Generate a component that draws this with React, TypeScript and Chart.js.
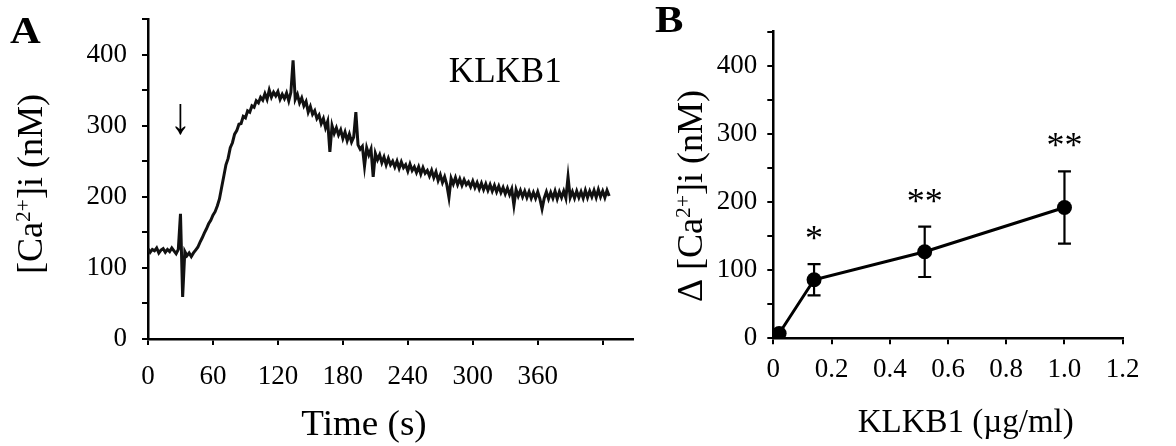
import React, { useEffect, useRef } from 'react';
import { Chart, registerables } from 'chart.js';

Chart.register(...registerables);

const SERIF = "'Liberation Serif', 'Times New Roman', serif";

// ---------- Panel A: [Ca2+]i time course ----------
const traceStartTime = 0;
const traceStep = 2; // seconds between samples
const traceValues = [
  127, 122, 126, 124, 128, 121, 125, 127, 122, 126,
  123, 128, 124, 120, 126, 176, 59, 123, 117, 121,
  116, 121, 125, 129, 136, 142, 149, 155, 162, 167,
  174, 179, 187, 197, 213, 229, 245, 254, 269, 276,
  288, 293, 302, 303, 313, 311, 321, 319, 328, 326,
  335, 332, 340, 336, 345, 337, 350, 340, 347, 342,
  348, 337, 344, 338, 346, 335, 347, 392, 337, 344,
  332, 339, 328, 334, 319, 327, 316, 321, 310, 315,
  303, 310, 297, 306, 263, 300, 289, 297, 287, 294,
  282, 291, 279, 288, 277, 284, 319, 273, 267, 271,
  243, 269, 259, 267, 228, 261, 252, 259, 248, 256,
  245, 254, 245, 250, 242, 250, 240, 249, 241, 245,
  236, 246, 237, 242, 234, 242, 232, 241, 233, 237,
  229, 237, 227, 235, 223, 231, 220, 228, 217, 199,
  226, 218, 227, 217, 225, 216, 224, 217, 221, 214,
  222, 213, 220, 211, 219, 210, 218, 209, 217, 208,
  216, 207, 215, 206, 213, 204, 212, 203, 211, 188,
  210, 201, 209, 200, 208, 199, 207, 198, 206, 198,
  207, 197, 183, 198, 207, 197, 206, 198, 208, 197,
  207, 199, 208, 198, 228, 199, 207, 198, 208, 199,
  207, 198, 209, 199, 208, 200, 209, 199, 210, 200,
  208, 199, 209, 201,
];
const timeMax = 448;
const timeStep = 60;
const timeLastLabel = 360;
const caMax = 450;
const caStep = 50;
const caLabelStep = 100;
const arrowTime = 30;
const arrowValue = 290;
const traceLabel = 'KLKB1';
const traceLabelTime = 330;
const traceLabelValue = 361;

// ---------- Panel B: dose response ----------
const doses = [0.02, 0.14, 0.52, 1.0];
const deltaCa = [7, 86, 127, 192];
const deltaSem = [0, 23, 37, 53];
const significance = ['', '*', '**', '**'];
const doseMax = 1.2;
const doseStep = 0.2;

type Part = { text: string; sup?: boolean };

function drawRich(
  ctx: CanvasRenderingContext2D,
  parts: Part[],
  size: number,
  bold: boolean,
  x: number,
  y: number,
  opts: { rotate?: boolean; align?: 'center' | 'left'; sx?: number } = {}
) {
  const { rotate = false, align = 'center', sx = 1 } = opts;
  ctx.save();
  ctx.translate(x, y);
  if (rotate) ctx.rotate(-Math.PI / 2);
  ctx.scale(sx, 1);
  ctx.fillStyle = '#000';
  ctx.textBaseline = 'alphabetic';
  ctx.textAlign = 'left';
  const fontOf = (p: Part) => `${bold ? 'bold ' : ''}${p.sup ? size * 0.6 : size}px ${SERIF}`;
  const widths = parts.map((p) => {
    ctx.font = fontOf(p);
    return ctx.measureText(p.text).width;
  });
  const total = widths.reduce((a, b) => a + b, 0);
  let cx = align === 'center' ? -total / 2 : 0;
  parts.forEach((p, i) => {
    ctx.font = fontOf(p);
    ctx.fillText(p.text, cx, p.sup ? -size * 0.33 : 0);
    cx += widths[i];
  });
  ctx.restore();
}

const axisGrid = {
  display: true,
  drawOnChartArea: false,
  drawTicks: true,
  tickLength: 6,
  tickWidth: 2,
  tickColor: '#000',
  color: '#000',
  lineWidth: 2,
};
const axisBorder = { display: true, color: '#000', width: 2.5 };
const tickFont = { family: SERIF, size: 27 };

function fixBox(prop: 'width' | 'height', size: number) {
  return (s: any) => {
    s[prop] = size;
    s.paddingTop = 0;
    s.paddingBottom = 0;
    s.paddingLeft = 0;
    s.paddingRight = 0;
  };
}

export default function App() {
  const refA = useRef<HTMLCanvasElement>(null);
  const refB = useRef<HTMLCanvasElement>(null);

  useEffect(() => {
    const traceData = traceValues.map((v, i) => ({ x: traceStartTime + i * traceStep, y: v }));

    const panelAPlugin = {
      id: 'panelA',
      afterDraw(chart: any) {
        const ctx = chart.ctx as CanvasRenderingContext2D;
        const xs = chart.scales.x;
        const ys = chart.scales.y;
        drawRich(ctx, [{ text: 'A' }], 37, true, 10, 43, { align: 'left', sx: 1.15 });
        drawRich(ctx, [{ text: '[Ca' }, { text: '2+', sup: true }, { text: ']i (nM)' }], 36, false, 41.5, 184, { rotate: true });
        drawRich(ctx, [{ text: 'Time (s)' }], 35, false, 364, 435, { sx: 1.06 });
        drawRich(ctx, [{ text: traceLabel }], 35, false, xs.getPixelForValue(traceLabelTime), ys.getPixelForValue(traceLabelValue));
        drawRich(ctx, [{ text: '\u2193' }], 52, false, xs.getPixelForValue(arrowTime), ys.getPixelForValue(arrowValue), { sx: 0.8 });
      },
    };

    const chartA = new Chart(refA.current!, {
      type: 'line',
      data: {
        datasets: [
          {
            data: traceData,
            borderColor: '#111',
            borderWidth: 3,
            pointRadius: 0,
            tension: 0,
            fill: false,
          },
        ],
      },
      options: {
        responsive: false,
        maintainAspectRatio: false,
        animation: false,
        events: [],
        layout: { padding: { left: 0, top: 19, right: 17, bottom: 0 } },
        plugins: { legend: { display: false }, tooltip: { enabled: false } },
        scales: {
          x: {
            type: 'linear',
            min: 0,
            max: timeMax,
            afterFit: fixBox('height', 107),
            ticks: {
              stepSize: timeStep,
              includeBounds: false,
              autoSkip: false,
              maxRotation: 0,
              color: '#000',
              font: tickFont,
              padding: 16,
              callback: (v: any) => (Number(v) <= timeLastLabel ? String(v) : ''),
            },
            grid: axisGrid,
            border: axisBorder,
          },
          y: {
            type: 'linear',
            min: 0,
            max: caMax,
            afterFit: fixBox('width', 148),
            ticks: {
              stepSize: caStep,
              autoSkip: false,
              color: '#000',
              font: tickFont,
              padding: 15,
              callback: (v: any) => (Number(v) % caLabelStep === 0 ? String(v) : ''),
            },
            grid: axisGrid,
            border: axisBorder,
          },
        },
      } as any,
      plugins: [panelAPlugin],
    });

    const panelBPlugin = {
      id: 'panelB',
      afterDatasetsDraw(chart: any) {
        const ctx = chart.ctx as CanvasRenderingContext2D;
        const xs = chart.scales.x;
        const ys = chart.scales.y;
        ctx.save();
        ctx.strokeStyle = '#000';
        ctx.lineWidth = 2.2;
        doses.forEach((d, i) => {
          if (!deltaSem[i]) return;
          const px = xs.getPixelForValue(d);
          const top = ys.getPixelForValue(deltaCa[i] + deltaSem[i]);
          const bot = ys.getPixelForValue(deltaCa[i] - deltaSem[i]);
          ctx.beginPath();
          ctx.moveTo(px, top);
          ctx.lineTo(px, bot);
          ctx.moveTo(px - 6.5, top);
          ctx.lineTo(px + 6.5, top);
          ctx.moveTo(px - 6.5, bot);
          ctx.lineTo(px + 6.5, bot);
          ctx.stroke();
        });
        ctx.restore();
      },
      afterDraw(chart: any) {
        const ctx = chart.ctx as CanvasRenderingContext2D;
        const xs = chart.scales.x;
        const ys = chart.scales.y;
        drawRich(ctx, [{ text: 'B' }], 37, true, 5, 32, { align: 'left', sx: 1.15 });
        drawRich(ctx, [{ text: '\u0394 [Ca' }, { text: '2+', sup: true }, { text: ']i (nM)' }], 36, false, 51.7, 196, { rotate: true });
        drawRich(ctx, [{ text: 'KLKB1 (\u00b5g/ml)' }], 33, false, 315.7, 431.7);
        doses.forEach((d, i) => {
          if (!significance[i]) return;
          const px = xs.getPixelForValue(d);
          const top = ys.getPixelForValue(deltaCa[i] + deltaSem[i]);
          drawRich(ctx, [{ text: significance[i] }], 36, false, px, top - 14);
        });
      },
    };

    const chartB = new Chart(refB.current!, {
      type: 'line',
      data: {
        datasets: [
          {
            data: doses.map((d, i) => ({ x: d, y: deltaCa[i] })),
            borderColor: '#000',
            borderWidth: 3,
            pointRadius: 7.5,
            pointBackgroundColor: '#000',
            pointBorderWidth: 0,
            tension: 0,
            fill: false,
          },
        ],
      },
      options: {
        responsive: false,
        maintainAspectRatio: false,
        animation: false,
        events: [],
        layout: { padding: { left: 0, top: 31.7, right: 53.3, bottom: 0 } },
        plugins: { legend: { display: false }, tooltip: { enabled: false } },
        scales: {
          x: {
            type: 'linear',
            min: 0,
            max: doseMax,
            afterFit: fixBox('height', 107.7),
            ticks: {
              stepSize: doseStep,
              autoSkip: false,
              maxRotation: 0,
              color: '#000',
              font: tickFont,
              padding: 9.5,
              callback: (v: any) => (Math.abs(Number(v)) < 1e-9 ? '0' : Number(v).toFixed(1)),
            },
            grid: axisGrid,
            border: axisBorder,
          },
          y: {
            type: 'linear',
            min: 0,
            max: caMax,
            afterFit: fixBox('width', 123.3),
            ticks: {
              stepSize: caStep,
              autoSkip: false,
              color: '#000',
              font: tickFont,
              padding: 10,
              callback: (v: any) => (Number(v) % caLabelStep === 0 ? String(v) : ''),
            },
            grid: axisGrid,
            border: axisBorder,
          },
        },
      } as any,
      plugins: [panelBPlugin],
    });

    return () => {
      chartA.destroy();
      chartB.destroy();
    };
  }, []);

  return (
    <div
      style={{
        position: 'fixed',
        left: 0,
        top: 0,
        width: 1176,
        height: 446,
        background: '#fff',
        overflow: 'hidden',
      }}
    >
      <canvas ref={refA} width={650} height={446} style={{ position: 'absolute', left: 0, top: 0, width: 650, height: 446 }} />
      <canvas ref={refB} width={526} height={446} style={{ position: 'absolute', left: 650, top: 0, width: 526, height: 446 }} />
    </div>
  );
}
